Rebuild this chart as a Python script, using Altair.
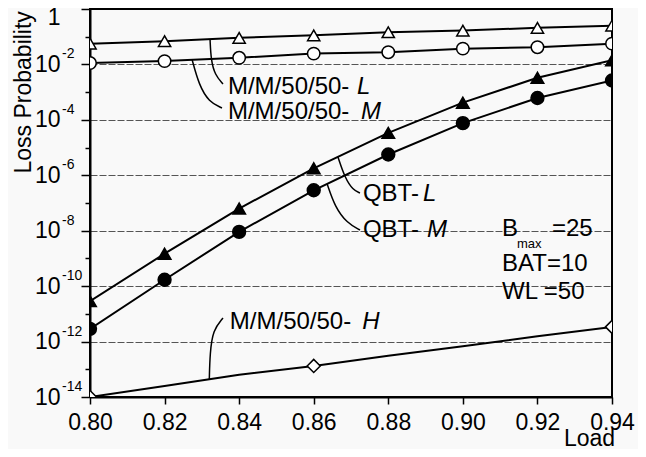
import altair as alt
import pandas as pd

# ---------------- data ----------------
loads = [0.80, 0.82, 0.84, 0.86, 0.88, 0.90, 0.92, 0.94]
mm_L = [0.0562, 0.0692, 0.0912, 0.112, 0.1445, 0.166, 0.209, 0.251]
mm_M = [0.01122, 0.01318, 0.01738, 0.02455, 0.02754, 0.03715, 0.04169, 0.05623]
qbt_L = [2.88e-11, 1.48e-9, 6.31e-8, 1.78e-6, 3.39e-5, 4.17e-4, 3.31e-3, 1.41e-2]
qbt_M = [2.88e-12, 1.70e-10, 9.12e-9, 2.88e-7, 5.62e-6, 7.59e-5, 6.17e-4, 2.63e-3]
mm_H = [1.0e-14, 2.51e-14, 6.31e-14, 1.32e-13, 3.09e-13, 6.76e-13, 1.55e-12, 3.39e-12]
mm_H_marker_loads = [0.80, 0.86, 0.94]
mm_H_marker_vals = [1.0e-14, 1.32e-13, 3.39e-12]

series_names = ["MM_L", "MM_M", "QBT_L", "QBT_M", "MM_H"]
series_shapes = ["triangle-up", "circle", "triangle-up", "circle", "diamond"]
series_fills = ["white", "white", "black", "black", "white"]
series_sizes = [150, 170, 110, 110, 190]

x_ticks = [0.80, 0.81, 0.82, 0.83, 0.84, 0.85, 0.86, 0.87, 0.88, 0.89, 0.90,
           0.91, 0.92, 0.93, 0.94]
y_ticks = [1, 1e-1, 1e-2, 1e-3, 1e-4, 1e-5, 1e-6, 1e-7, 1e-8, 1e-9, 1e-10,
           1e-11, 1e-12, 1e-13, 1e-14]
# y tick labels: mantissa part (axis labels) and exponent part (superscripts)
exp_values = [1e-2, 1e-4, 1e-6, 1e-8, 1e-10, 1e-12, 1e-14]
exp_texts = ["-2", "-4", "-6", "-8", "-10", "-12", "-14"]

# annotation labels (load, probability, text)
ann_regular = [
    (0.8370, 1.53e-3, "M/M/50/50-"),
    (0.8370, 2.0e-4, "M/M/50/50-"),
    (0.8732, 2.11e-7, "QBT-"),
    (0.8732, 1.02e-8, "QBT-"),
    (0.8375, 4.9e-12, "M/M/50/50-"),
    (0.9105, 1.15e-8, "B"),
    (0.9239, 1.15e-8, "=25"),
    (0.9105, 6.56e-10, "BAT=10"),
    (0.9105, 6.4e-11, "WL =50"),
]
ann_italic = [
    (0.8716, 1.53e-3, "L"),
    (0.8727, 2.0e-4, "M"),
    (0.8893, 2.11e-7, "L"),
    (0.8904, 1.02e-8, "M"),
    (0.8730, 4.9e-12, "H"),
]
ann_sub = [(0.9145, 3.3e-9, "max")]

# leader curves (id, load, probability)
leaders = {
    "L": ([0.8322, 0.83245, 0.83353, 0.83567], [0.079, 0.01445, 4.16e-3, 1.97e-3]),
    "M": ([0.8274, 0.82923, 0.83192, 0.8354], [0.0146, 1.81e-3, 4.41e-4, 2.68e-4]),
    "QL": ([0.8665, 0.86839, 0.87054, 0.87241], [4.6e-6, 7.98e-7, 2.94e-7, 2.30e-7]),
    "QM": ([0.8636, 0.86571, 0.86893, 0.87241], [4.9e-7, 7.18e-8, 1.90e-8, 1.06e-8]),
    "H": ([0.832, 0.83218, 0.83299, 0.83567], [4.4e-14, 3.86e-13, 2.61e-12, 7.08e-12]),
}

# ---------------- tables ----------------
rows = []
for name, vals in zip(series_names[:4], [mm_L, mm_M, qbt_L, qbt_M]):
    for l, v in zip(loads, vals):
        rows.append({"series": name, "load": l, "prob": v})
for l, v in zip(loads, mm_H):
    rows.append({"series": "MM_H", "load": l, "prob": v})
lines_df = pd.DataFrame(rows)

prow = [r for r in rows if r["series"] != "MM_H"]
for l, v in zip(mm_H_marker_loads, mm_H_marker_vals):
    prow.append({"series": "MM_H", "load": l, "prob": v})
points_df = pd.DataFrame(prow)

lead_rows = []
for k, (xs, ys) in leaders.items():
    for i, (a, b) in enumerate(zip(xs, ys)):
        lead_rows.append({"id": k, "ord": i, "load": a, "prob": b})
lead_df = pd.DataFrame(lead_rows)

reg_df = pd.DataFrame(ann_regular, columns=["load", "prob", "text"])
ita_df = pd.DataFrame(ann_italic, columns=["load", "prob", "text"])
sub_df = pd.DataFrame(ann_sub, columns=["load", "prob", "text"])
exp_df = pd.DataFrame({"prob": exp_values, "text": exp_texts})

FONT = "Liberation Sans"

x_scale = alt.Scale(domain=[0.80, 0.94], nice=False, zero=False)
y_scale = alt.Scale(type="log", domain=[1e-14, 1], nice=False)

exp_expr = "abs(round(log(datum.value)/LN10))"
x_axis = alt.Axis(
    values=x_ticks,
    labelExpr="round(datum.value*100) % 2 == 0 ? format(datum.value, '.2f') : ''",
    tickSize={"condition": {"test": "round(datum.value*100) % 2 == 0", "value": 7}, "value": 4},
    labelPadding=7,
    labelFlush=False,
    labelOverlap=False,
    grid=False,
    title="Load",
    titleX=499, titleY=48, titleAlign="center", titleBaseline="alphabetic",
    titleAnchor="start",
)
y_axis = alt.Axis(
    values=y_ticks,
    labelExpr="datum.value > 0.5 ? '1\u00a0' : (" + exp_expr + " % 2 == 0 ? '10' : '')",
    tickSize={"condition": {"test": exp_expr + " % 2 == 0", "value": 9}, "value": 5},
    gridOpacity={"condition": {"test": exp_expr + " % 2 == 0 && datum.value < 0.5 && datum.value > 1e-13",
                               "value": 1}, "value": 0},
    labelOffset={"condition": {"test": "datum.value > 0.5", "value": 8}, "value": 0},
    labelPadding=21,
    labelFlush=False,
    labelOverlap=False,
    grid=True,
    title="Loss Probability",
    titleAngle=270, titleX=-60, titleY=164, titleAlign="left", titleBaseline="alphabetic",
    titleAnchor="start",
)

X = alt.X("load:Q", scale=x_scale, axis=x_axis)
Y = alt.Y("prob:Q", scale=y_scale, axis=y_axis)
Xn = alt.X("load:Q", scale=x_scale)
Yn = alt.Y("prob:Q", scale=y_scale)

lines = alt.Chart(lines_df).mark_line(color="black", strokeWidth=2, clip=True).encode(
    x=X, y=Y, detail="series:N"
)
points = alt.Chart(points_df).mark_point(
    filled=True, stroke="black", strokeWidth=1.5, opacity=1, clip=True
).encode(
    x=Xn, y=Yn,
    shape=alt.Shape("series:N", scale=alt.Scale(domain=series_names, range=series_shapes), legend=None),
    fill=alt.Fill("series:N", scale=alt.Scale(domain=series_names, range=series_fills), legend=None),
    size=alt.Size("series:N", scale=alt.Scale(domain=series_names, range=series_sizes), legend=None),
)
leads = alt.Chart(lead_df).mark_line(color="black", strokeWidth=1.5, interpolate="basis").encode(
    x=Xn, y=Yn, detail="id:N", order="ord:Q"
)
txt_reg = alt.Chart(reg_df).mark_text(
    align="left", baseline="middle", font=FONT, fontSize=24, color="black"
).encode(x=Xn, y=Yn, text="text:N")
txt_ita = alt.Chart(ita_df).mark_text(
    align="left", baseline="middle", font=FONT, fontSize=24, fontStyle="italic", color="black"
).encode(x=Xn, y=Yn, text="text:N")
txt_sub = alt.Chart(sub_df).mark_text(
    align="left", baseline="middle", font=FONT, fontSize=13, color="black"
).encode(x=Xn, y=Yn, text="text:N")
# superscript exponents of the y tick labels
txt_exp = alt.Chart(exp_df).mark_text(
    align="left", baseline="middle", font=FONT, fontSize=14, color="black", dy=-10
).encode(x=alt.value(-28), y=Yn, text="text:N")

chart = alt.layer(lines, points, leads, txt_reg, txt_ita, txt_sub, txt_exp).properties(
    width=522, height=388,
    padding={"left": 82, "top": 1, "right": 26, "bottom": 52},
    autosize=alt.AutoSizeParams(type="none"),
    background="#f9f9f9",
).configure_view(
    stroke="black", strokeWidth=2
).configure_axis(
    labelFont=FONT, titleFont=FONT, labelFontSize=23, titleFontSize=23,
    titleFontWeight="normal", labelColor="black", titleColor="black",
    domainColor="black", domainWidth=2, tickColor="black", tickWidth=1.5,
    gridColor="#555555", gridDash=[7, 2], gridWidth=1,
)

chart.save("out.html", embed_options={"renderer": "svg", "actions": False})
